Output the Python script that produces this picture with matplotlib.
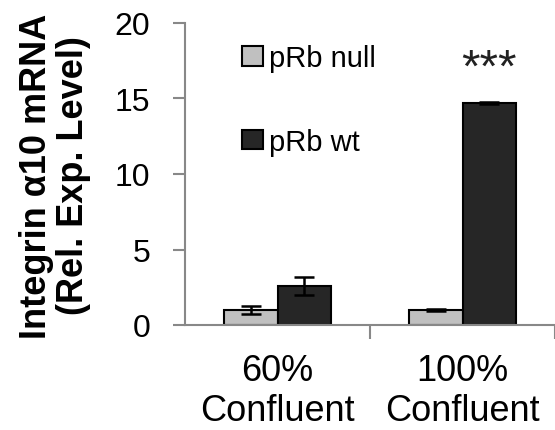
import matplotlib.pyplot as plt
import numpy as np

plt.rcParams['font.family'] = ['Liberation Sans', 'DejaVu Sans']

groups = ['60%\nConfluent', '100%\nConfluent']
series = ['pRb null', 'pRb wt']
null_vals = [1.0, 1.0]
null_err = [0.25, 0.05]
wt_vals = [2.6, 14.7]
wt_err = [0.6, 0.05]
colors = ['#c0c0c0', '#262626']
yticks = [0, 5, 10, 15, 20]

fig = plt.figure(figsize=(5.55, 4.31), dpi=100)
ax = fig.add_axes([185/555, 105/431, 370/555, 302/431])

x = np.arange(len(groups))
w = 0.29
ax.bar(x - w/2, null_vals, w, color=colors[0], edgecolor='black', linewidth=1.5,
       label=series[0], yerr=null_err, capsize=7, error_kw=dict(elinewidth=1.8, capthick=1.8))
ax.bar(x + w/2, wt_vals, w, color=colors[1], edgecolor='black', linewidth=1.5,
       label=series[1], yerr=wt_err, capsize=7, error_kw=dict(elinewidth=1.8, capthick=1.8))

ax.text(x[1] + w/2, 17.0, '***', ha='center', va='center', fontsize=34, color='#222222')

ax.set_xlim(-0.5, 1.45)
ax.set_ylim(0, 20)
ax.set_yticks(yticks)
ax.set_yticklabels([str(v) for v in yticks], fontsize=23)
ax.set_xticks(x)
ax.set_xticklabels(groups, fontsize=26, linespacing=1.2)
ax.set_xticks([0.5, 1.5], minor=True)
ax.tick_params(axis='x', which='major', length=0, pad=20)
ax.tick_params(axis='x', which='minor', length=10, width=1.5, color='#888888', direction='out')
ax.tick_params(axis='y', length=9, width=1.5, color='#888888', direction='out', pad=16)

for s in ['top', 'right']:
    ax.spines[s].set_visible(False)
for s in ['left', 'bottom']:
    ax.spines[s].set_color('#888888')
    ax.spines[s].set_linewidth(1.5)

ax.legend(loc='upper left', bbox_to_anchor=(0.155, 0.93), frameon=False, fontsize=21,
          handlelength=0.72, handleheight=0.65, handletextpad=0.2, labelspacing=1.9,
          borderpad=0, borderaxespad=0)

fig.text(55/555, 1 - 176/431, 'Integrin α10 mRNA\n(Rel. Exp. Level)', rotation=90,
         ha='center', va='center', fontsize=26, fontweight='bold', linespacing=1.1)

fig.savefig('out.png', dpi=100)
